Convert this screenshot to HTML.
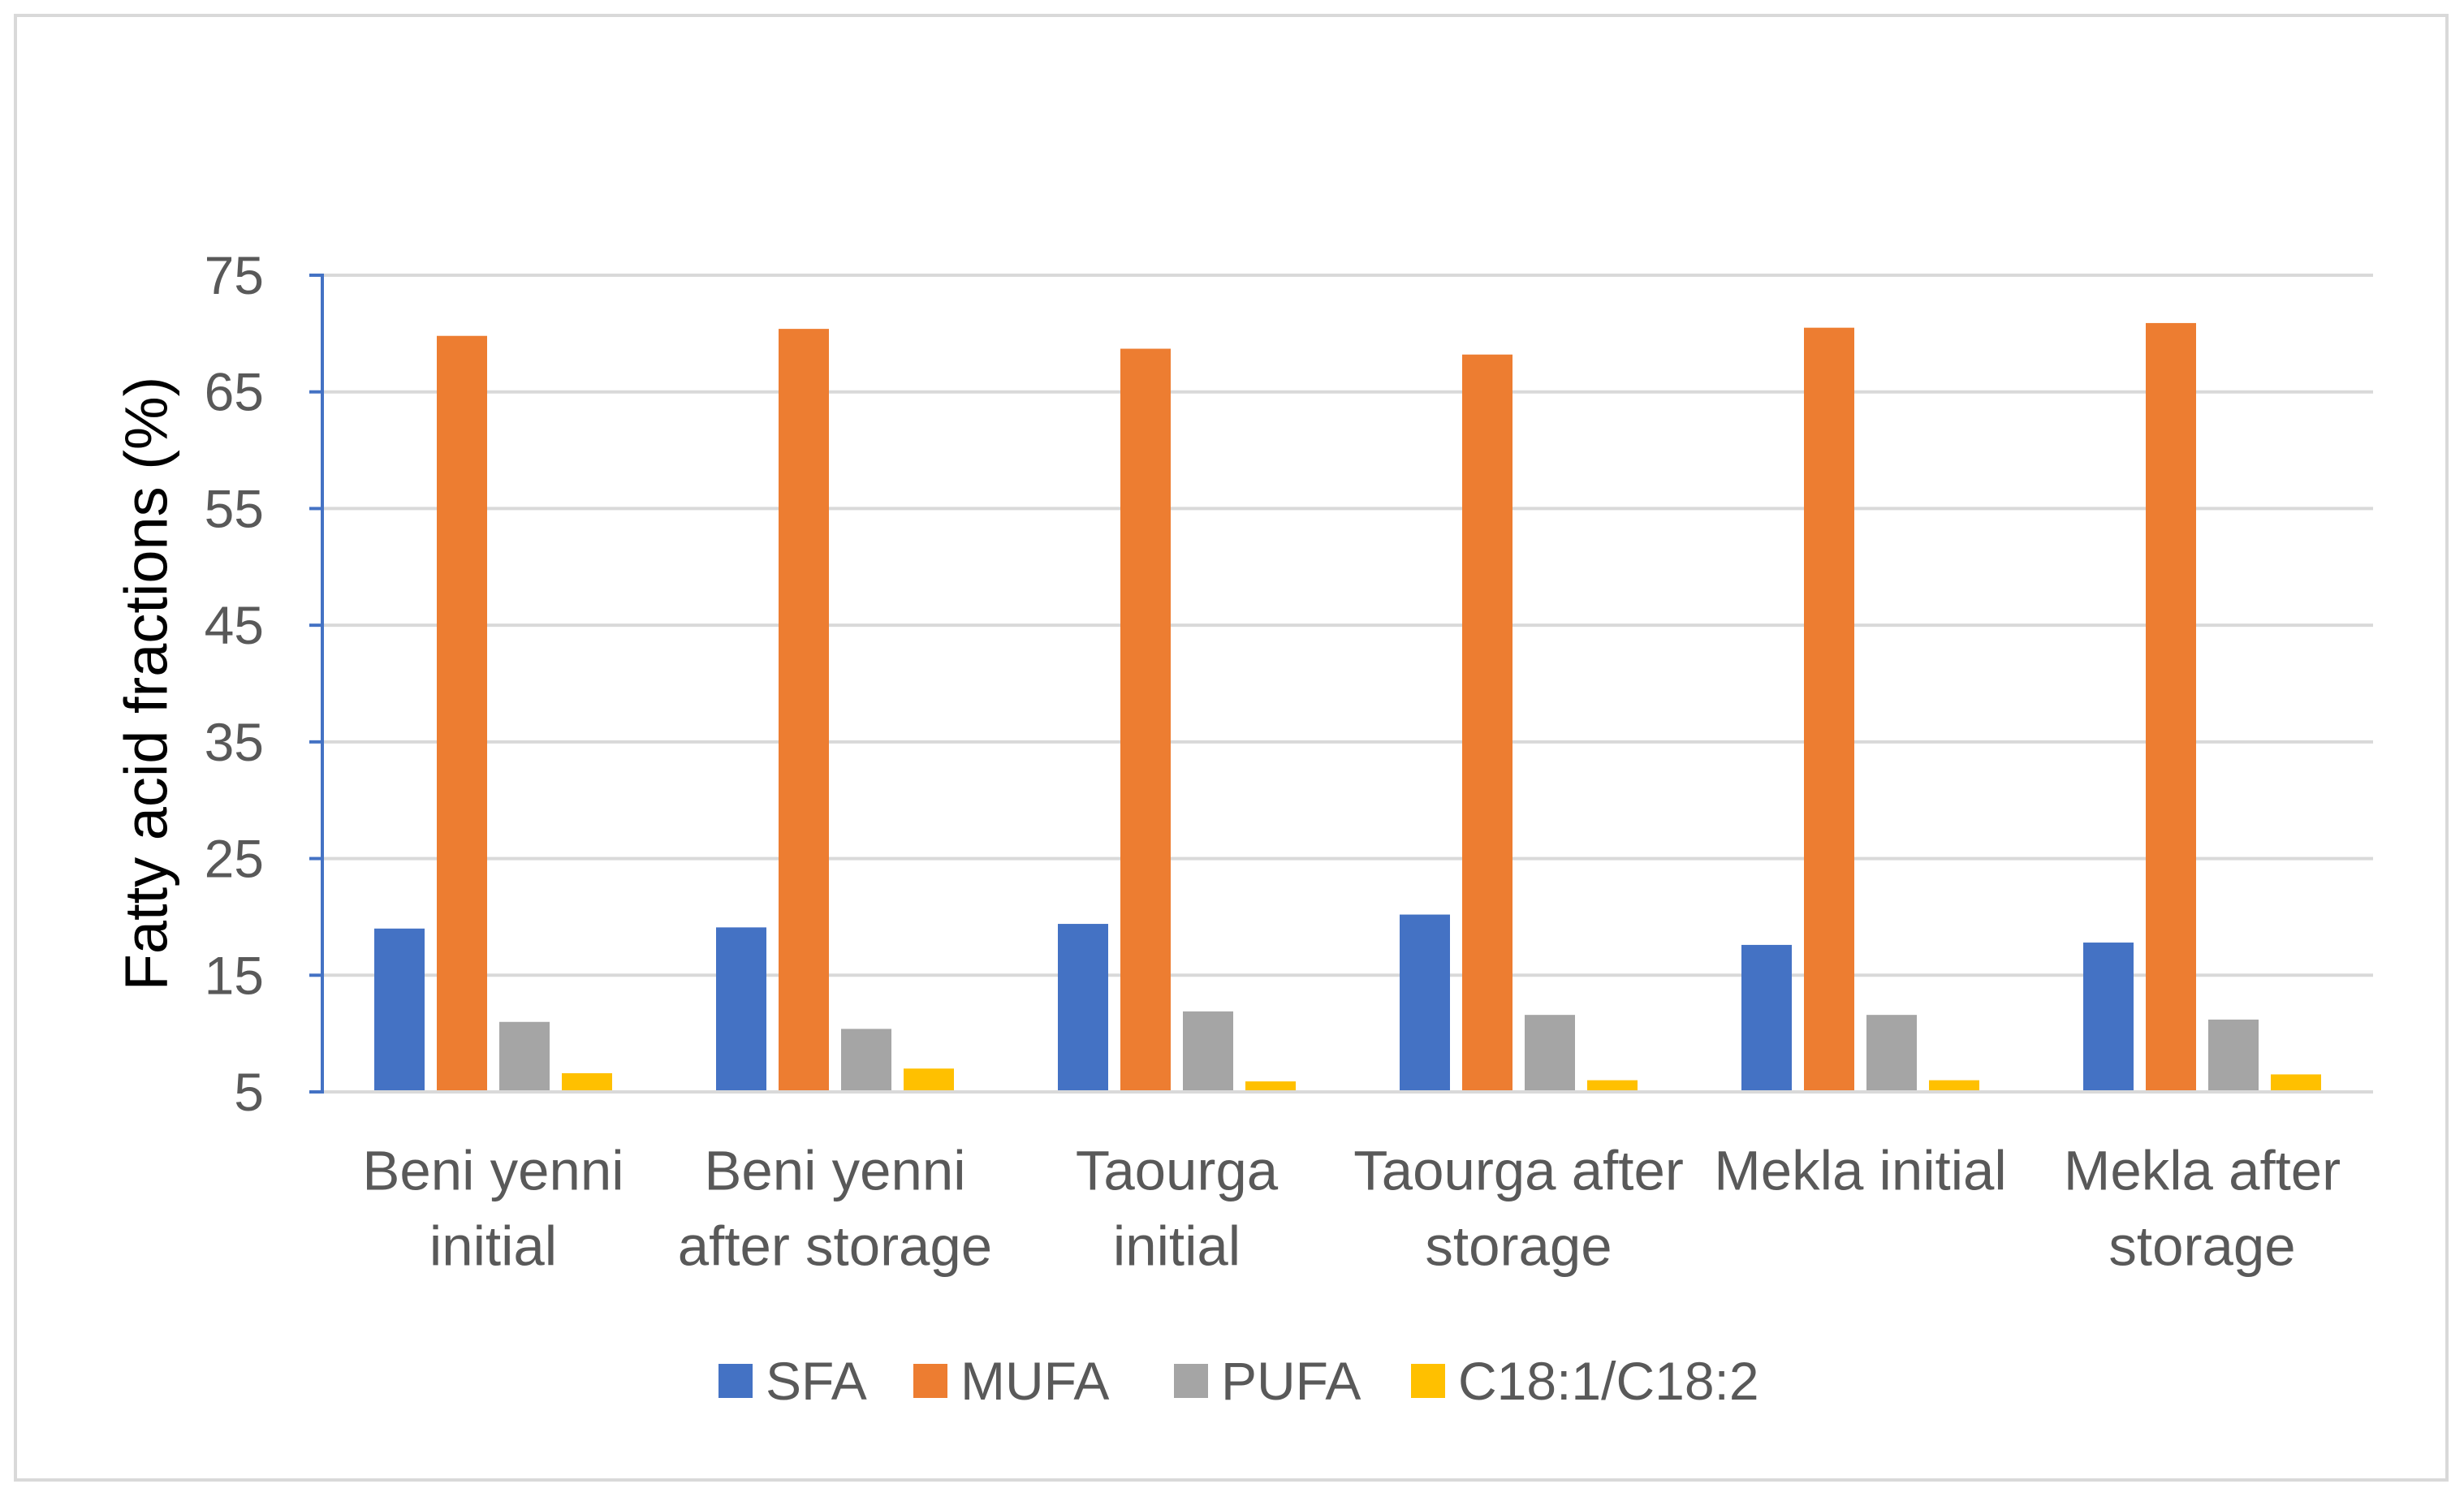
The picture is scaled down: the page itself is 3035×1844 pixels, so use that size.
<!DOCTYPE html>
<html><head><meta charset="utf-8"><style>
html,body{margin:0;padding:0;background:#fff;}
svg{display:block;font-family:"Liberation Sans",sans-serif;}
</style></head><body>
<svg id="chart" width="3035" height="1844" viewBox="0 0 3035 1844">
<rect x="19" y="19" width="2995" height="1804" fill="#fff" stroke="#d9d9d9" stroke-width="4"/>
<g id="grid"></g><g id="bars"></g><g id="axis"></g><g id="labels"></g><g id="legend"></g>
<text x="180" y="842" transform="rotate(-90 180 842)" text-anchor="middle" dominant-baseline="central" font-size="74" fill="#000">Fatty acid fractions (%)</text>
</svg>
<script>
const categories=[["Beni yenni","initial"],["Beni yenni","after storage"],["Taourga","initial"],["Taourga after","storage"],["Mekla initial",""],["Mekla after","storage"]];
const seriesNames=["SFA","MUFA","PUFA","C18:1/C18:2"];
const seriesColors=["#4472C4","#ED7D31","#A5A5A5","#FFC000"];
const sfa=[19.0,19.1,19.4,20.2,17.6,17.8];
const mufa=[69.8,70.4,68.7,68.2,70.5,70.9];
const pufa=[11.0,10.4,11.9,11.6,11.6,11.2];
const ratio=[6.6,7.0,5.9,6.0,6.0,6.5];
const yTicks=[5,15,25,35,45,55,65,75];
const series=[sfa,mufa,pufa,ratio];
const NS="http://www.w3.org/2000/svg";
const X0=397,X1=2923,Y0=1345,Y1=339,YMIN=5,YMAX=75;
const y=v=>Y0-(v-YMIN)/(YMAX-YMIN)*(Y0-Y1);
const band=(X1-X0)/categories.length;
const bw=62,step=77,off=(band-(3*step+bw))/2;
function mk(tag,attrs,parent){const e=document.createElementNS(NS,tag);for(const k in attrs)e.setAttribute(k,attrs[k]);parent.appendChild(e);return e;}
const grid=document.getElementById('grid'),axis=document.getElementById('axis'),bars=document.getElementById('bars'),labels=document.getElementById('labels'),legend=document.getElementById('legend');
yTicks.forEach(t=>{
  const g=mk('line',{x1:X0,x2:X1,y1:y(t),y2:y(t),stroke:'#d9d9d9','stroke-width':4},grid);
  
  
  const tk=mk('line',{x1:381,x2:X0,y1:y(t),y2:y(t),stroke:'#4472C4','stroke-width':4},axis);
  
  
  const tx=mk('text',{x:325,y:y(t),'text-anchor':'end','dominant-baseline':'central','font-size':66,fill:'#595959'},axis);
  tx.textContent=t;
  
  
});
const ax=mk('line',{x1:X0,x2:X0,y1:Y1-2,y2:Y0+2,stroke:'#4472C4','stroke-width':4},axis);


categories.forEach((c,i)=>{
  const left=X0+i*band;
  series.forEach((s,j)=>{
    const v=s[i];
    const r=mk('rect',{x:left+off+j*step,y:y(v),width:bw,height:Y0-y(v)-2,fill:seriesColors[j]},bars);
    
    
  });
  const cx=left+band/2;
  c.forEach((line,k)=>{
    if(!line)return;
    const t=mk('text',{x:cx,y:1442+k*93,'text-anchor':'middle','dominant-baseline':'central','font-size':69,fill:'#595959'},labels);
    t.textContent=line;
    
    
  });
});
const legX=[885,1125,1446,1738];
seriesNames.forEach((n,j)=>{
  const sq=mk('rect',{x:legX[j],y:1680,width:42,height:42,fill:seriesColors[j]},legend);
  
  
  const t=mk('text',{x:legX[j]+58,y:1701,'dominant-baseline':'central','font-size':66,fill:'#595959'},legend);
  t.textContent=n;
  
  
});
</script>
</body></html>
